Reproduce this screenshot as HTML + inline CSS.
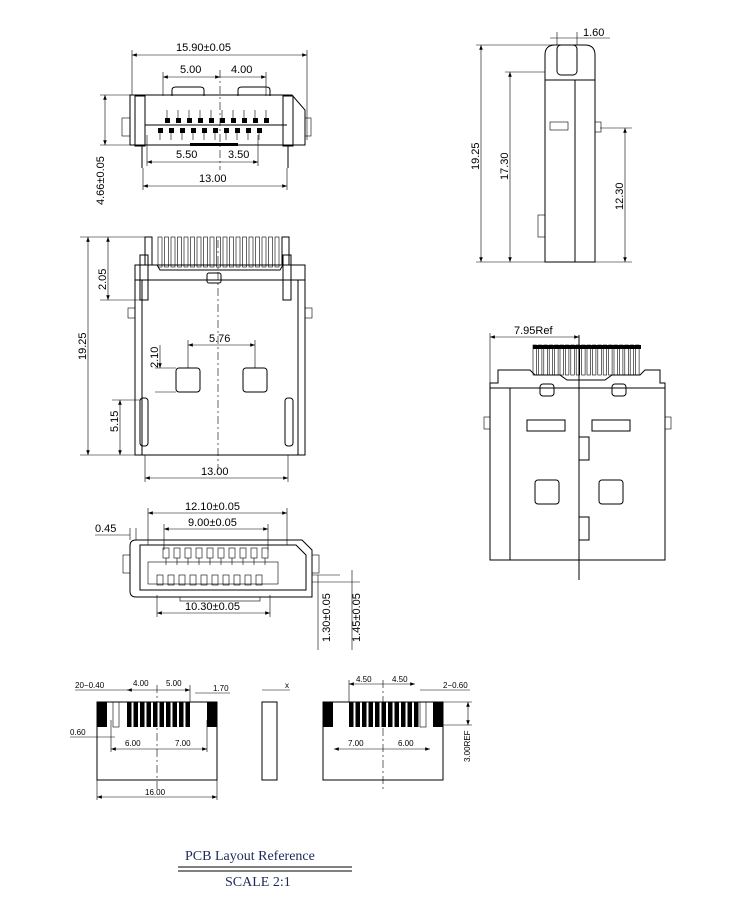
<!DOCTYPE html>
<html><head><meta charset="utf-8"><style>
html,body{margin:0;padding:0;background:#fff}
svg{display:block}
text{font-family:"Liberation Sans",sans-serif;font-size:11px;fill:#000}
.l{stroke:#000;stroke-width:1;fill:none}
.t{stroke:#000;stroke-width:0.6;fill:none}
.c{stroke:#000;stroke-width:0.6;fill:none;stroke-dasharray:8 3 2 3}
.f{fill:#000}
</style></head><body>
<svg id="s" width="750" height="900" viewBox="0 0 750 900" xmlns="http://www.w3.org/2000/svg">
<defs>
<marker id="a" markerWidth="8" markerHeight="6" refX="8" refY="3" orient="auto-start-reverse"><path d="M0,0 L8,3 L0,6z" fill="#000"/></marker>
</defs>
<g id="g">
<path class="l" d="M130 95 H292 L305 110 V145 H130 Z"/>
<rect class="t" x="122" y="118" width="8" height="18"/><rect class="t" x="305" y="118" width="6" height="18"/>
<rect class="l" x="135" y="96" width="10" height="50"/><rect class="l" x="283" y="96" width="10" height="50"/>
<line class="l" x1="142" y1="146" x2="142" y2="168"/><line class="l" x1="288" y1="146" x2="288" y2="168"/>
<path class="l" d="M145 125 H287"/>
<rect class="f" x="190" y="143" width="48" height="3"/>
<path class="l" d="M172 96 V90 Q172 87 176 87 H200 Q204 87 204 90 V96 M238 96 V90 Q238 87 242 87 H266 Q270 87 270 90 V96"/>
<line class="c" x1="220" y1="70" x2="220" y2="170"/>
<line class="t" x1="132" y1="55" x2="307" y2="55" marker-start="url(#a)" marker-end="url(#a)"/>
<line class="t" x1="132" y1="50" x2="132" y2="95"/><line class="t" x1="307" y1="50" x2="307" y2="140"/>
<text x="176" y="51">15.90±0.05</text>
<line class="t" x1="163" y1="77" x2="220" y2="77" marker-start="url(#a)" marker-end="url(#a)"/>
<line class="t" x1="266" y1="77" x2="220" y2="77" marker-start="url(#a)"/>
<line class="t" x1="163" y1="72" x2="163" y2="96"/><line class="t" x1="266" y1="72" x2="266" y2="96"/>
<text x="180" y="73">5.00</text><text x="231" y="73">4.00</text>
<line class="t" x1="147" y1="162" x2="258" y2="162" marker-start="url(#a)" marker-end="url(#a)"/>
<line class="t" x1="147" y1="135" x2="147" y2="166"/><line class="t" x1="258" y1="135" x2="258" y2="166"/>
<text x="176" y="158">5.50</text><text x="228" y="158">3.50</text>
<line class="t" x1="143" y1="186" x2="287" y2="186" marker-start="url(#a)" marker-end="url(#a)"/>
<line class="t" x1="143" y1="168" x2="143" y2="190"/><line class="t" x1="287" y1="168" x2="287" y2="190"/>
<text x="199" y="182">13.00</text>
<line class="t" x1="105" y1="95" x2="105" y2="145" marker-start="url(#a)" marker-end="url(#a)"/>
<line class="t" x1="100" y1="95" x2="130" y2="95"/><line class="t" x1="100" y1="145" x2="130" y2="145"/>
<text transform="translate(104 205) rotate(-90)">4.66±0.05</text>

<path class="l" d="M135 265 H305 V455 H135 Z"/>
<line class="l" x1="135" y1="280" x2="305" y2="280"/>
<line class="l" x1="142" y1="280" x2="142" y2="455"/><line class="l" x1="298" y1="280" x2="298" y2="455"/>
<rect class="t" x="128" y="308" width="7" height="10"/><rect class="t" x="305" y="308" width="7" height="10"/>
<path class="l" d="M145 265 V237 H152 V265 M282 265 V237 H289 V265"/>
<rect class="l" x="140" y="255" width="8" height="45"/><rect class="l" x="283" y="255" width="8" height="45"/>
<g id="p2"></g>
<path class="l" d="M150 265 H157 L160 270 H280 L283 265"/>
<rect class="l" x="207" y="273" width="14" height="10" rx="2"/>
<line class="c" x1="218" y1="240" x2="218" y2="470"/>
<rect class="l" x="176" y="368" width="24" height="24" rx="3"/><rect class="l" x="243" y="368" width="24" height="24" rx="3"/>
<rect class="l" x="140" y="398" width="8" height="48" rx="3"/><rect class="l" x="285" y="398" width="8" height="48" rx="3"/>
<line class="t" x1="80" y1="237" x2="145" y2="237"/><line class="t" x1="80" y1="455" x2="135" y2="455"/>
<line class="t" x1="88" y1="237" x2="88" y2="455" marker-start="url(#a)" marker-end="url(#a)"/>
<text transform="translate(86 360) rotate(-90)">19.25</text>
<line class="t" x1="108" y1="237" x2="108" y2="300" marker-start="url(#a)" marker-end="url(#a)"/>
<line class="t" x1="100" y1="300" x2="140" y2="300"/>
<text transform="translate(106 290) rotate(-90)">2.05</text>
<line class="t" x1="160" y1="345" x2="160" y2="368" marker-end="url(#a)"/>
<line class="t" x1="155" y1="368" x2="176" y2="368"/><line class="t" x1="155" y1="392" x2="176" y2="392"/>
<text transform="translate(158 368) rotate(-90)">2.10</text>
<line class="t" x1="188" y1="345" x2="255" y2="345" marker-start="url(#a)" marker-end="url(#a)"/>
<line class="t" x1="188" y1="340" x2="188" y2="368"/><line class="t" x1="255" y1="340" x2="255" y2="368"/>
<text x="209" y="342">5.76</text>
<line class="t" x1="120" y1="400" x2="120" y2="455" marker-start="url(#a)" marker-end="url(#a)"/>
<line class="t" x1="112" y1="400" x2="140" y2="400"/>
<text transform="translate(118 432) rotate(-90)">5.15</text>
<line class="t" x1="145" y1="478" x2="288" y2="478" marker-start="url(#a)" marker-end="url(#a)"/>
<line class="t" x1="145" y1="455" x2="145" y2="482"/><line class="t" x1="288" y1="455" x2="288" y2="482"/>
<text x="201" y="475">13.00</text>

<path class="l" d="M136 540 H302 L312 550 V597 H136 Q130 597 130 591 V546 Q130 540 136 540 Z"/>
<path class="l" d="M140 545 H296 L306 555 V590 H140 Z"/>
<rect class="t" x="123" y="555" width="7" height="18"/><rect class="t" x="312" y="555" width="7" height="18"/>
<rect class="t" x="148" y="562" width="130" height="22"/>
<g id="p3"></g>
<rect class="t" x="180" y="597" width="80" height="4"/>
<line class="t" x1="148" y1="513" x2="287" y2="513" marker-start="url(#a)" marker-end="url(#a)"/>
<line class="t" x1="148" y1="508" x2="148" y2="545"/><line class="t" x1="287" y1="508" x2="287" y2="545"/>
<text x="185" y="510">12.10±0.05</text>
<line class="t" x1="164" y1="529" x2="268" y2="529" marker-start="url(#a)" marker-end="url(#a)"/>
<line class="t" x1="164" y1="524" x2="164" y2="550"/><line class="t" x1="268" y1="524" x2="268" y2="550"/>
<text x="188" y="526">9.00±0.05</text>
<line class="t" x1="95" y1="535" x2="130" y2="535"/><text x="95" y="532">0.45</text>
<line class="t" x1="130" y1="528" x2="130" y2="540"/><line class="t" x1="136" y1="528" x2="136" y2="540"/>
<line class="t" x1="157" y1="613" x2="270" y2="613" marker-start="url(#a)" marker-end="url(#a)"/>
<line class="t" x1="157" y1="595" x2="157" y2="617"/><line class="t" x1="270" y1="595" x2="270" y2="617"/>
<text x="185" y="610">10.30±0.05</text>
<line class="t" x1="312" y1="575" x2="340" y2="575"/><line class="t" x1="312" y1="582" x2="360" y2="582"/>
<line class="t" x1="318" y1="575" x2="318" y2="650"/><line class="t" x1="352" y1="570" x2="352" y2="650"/>
<text transform="translate(330 642) rotate(-90)">1.30±0.05</text>
<text transform="translate(360 642) rotate(-90)">1.45±0.05</text>

<rect class="l" x="97" y="702" width="120" height="78"/>
<g id="p4"></g>
<line class="c" x1="157" y1="685" x2="157" y2="790"/>
<line class="t" x1="97" y1="797" x2="217" y2="797" marker-start="url(#a)" marker-end="url(#a)"/>
<line class="t" x1="97" y1="780" x2="97" y2="800"/><line class="t" x1="217" y1="780" x2="217" y2="800"/>
<text x="145" y="795" style="font-size:8px">16.00</text>
<line class="t" x1="111" y1="749" x2="207" y2="749" marker-start="url(#a)" marker-end="url(#a)"/>
<line class="t" x1="111" y1="720" x2="111" y2="752"/><line class="t" x1="207" y1="720" x2="207" y2="752"/>
<text x="125" y="746" style="font-size:8px">6.00</text><text x="175" y="746" style="font-size:8px">7.00</text>
<line class="t" x1="70" y1="737" x2="115" y2="737"/><text x="70" y="735" style="font-size:8px">0.60</text>
<line class="t" x1="75" y1="690" x2="130" y2="690"/><text x="75" y="688" style="font-size:8px">20−0.40</text>
<line class="t" x1="127" y1="690" x2="190" y2="690" marker-start="url(#a)" marker-end="url(#a)"/>
<line class="t" x1="190" y1="685" x2="190" y2="702"/>
<text x="133" y="686" style="font-size:8px">4.00</text><text x="166" y="686" style="font-size:8px">5.00</text>
<line class="t" x1="195" y1="693" x2="230" y2="693"/><text x="213" y="691" style="font-size:8px">1.70</text>
<rect class="l" x="262" y="702" width="15" height="78"/>
<line class="t" x1="262" y1="690" x2="290" y2="690"/><text x="285" y="688" style="font-size:8px">x</text>

<rect class="l" x="323" y="702" width="120" height="78"/>
<g id="p5"></g>
<line class="c" x1="383" y1="680" x2="383" y2="792"/>
<line class="t" x1="349" y1="684" x2="415" y2="684" marker-start="url(#a)" marker-end="url(#a)"/>
<line class="t" x1="349" y1="680" x2="349" y2="702"/>
<text x="356" y="682" style="font-size:8px">4.50</text><text x="392" y="682" style="font-size:8px">4.50</text>
<line class="t" x1="420" y1="690" x2="470" y2="690"/><text x="443" y="688" style="font-size:8px">2−0.60</text>
<line class="t" x1="334" y1="749" x2="430" y2="749" marker-start="url(#a)" marker-end="url(#a)"/>
<text x="348" y="746" style="font-size:8px">7.00</text><text x="398" y="746" style="font-size:8px">6.00</text>
<line class="t" x1="443" y1="702" x2="472" y2="702"/><line class="t" x1="443" y1="725" x2="472" y2="725"/>
<line class="t" x1="468" y1="702" x2="468" y2="725" marker-start="url(#a)" marker-end="url(#a)"/>
<text transform="translate(470 762) rotate(-90)" style="font-size:8px">3.00REF</text>

<path class="l" d="M545 262 V55 Q545 45 555 45 H585 Q595 45 595 55 V262 Z"/>
<rect class="l" x="557" y="45" width="20" height="30" rx="4"/>
<line class="l" x1="575" y1="80" x2="575" y2="262"/>
<line class="l" x1="545" y1="80" x2="595" y2="80"/>
<rect class="t" x="550" y="122" width="18" height="8"/><rect class="t" x="595" y="122" width="6" height="10"/>
<rect class="t" x="538" y="215" width="7" height="22"/>
<line class="t" x1="476" y1="45" x2="560" y2="45"/><line class="t" x1="476" y1="262" x2="545" y2="262"/>
<line class="t" x1="481" y1="45" x2="481" y2="262" marker-start="url(#a)" marker-end="url(#a)"/>
<text transform="translate(479 170) rotate(-90)">19.25</text>
<line class="t" x1="505" y1="72" x2="545" y2="72"/>
<line class="t" x1="510" y1="72" x2="510" y2="262" marker-start="url(#a)" marker-end="url(#a)"/>
<text transform="translate(508 180) rotate(-90)">17.30</text>
<line class="t" x1="600" y1="128" x2="632" y2="128"/><line class="t" x1="595" y1="262" x2="632" y2="262"/>
<line class="t" x1="625" y1="128" x2="625" y2="262" marker-start="url(#a)" marker-end="url(#a)"/>
<text transform="translate(623 210) rotate(-90)">12.30</text>
<line class="t" x1="550" y1="38" x2="610" y2="38"/><text x="583" y="36">1.60</text>
<line class="t" x1="557" y1="32" x2="557" y2="45"/><line class="t" x1="577" y1="32" x2="577" y2="45"/>

<path class="l" d="M490 560 V383 H498 V370 H530 L535 375 H560 L567 380 H605 L612 375 H640 L645 370 H660 V383 H665 V560 Z"/>
<line class="l" x1="490" y1="388" x2="665" y2="388"/>
<line class="l" x1="510" y1="388" x2="510" y2="560"/>
<rect class="t" x="484" y="417" width="6" height="12"/><rect class="t" x="665" y="417" width="6" height="12"/>
<rect class="l" x="540" y="384" width="14" height="12" rx="3"/><rect class="l" x="612" y="384" width="14" height="12" rx="3"/>
<rect class="l" x="527" y="420" width="38" height="11"/><rect class="l" x="592" y="420" width="38" height="11"/>
<rect class="l" x="535" y="480" width="24" height="24" rx="3"/><rect class="l" x="599" y="480" width="24" height="24" rx="3"/>
<path class="l" d="M579 335 V580 M579 437 H589 V460 H579 M579 517 H589 V540 H579"/>
<g id="p6"></g>
<line class="t" x1="490" y1="337" x2="579" y2="337" marker-start="url(#a)" marker-end="url(#a)"/>
<line class="t" x1="490" y1="333" x2="490" y2="383"/>
<text x="514" y="334">7.95Ref</text>

<text x="185" y="860" style="font-family:'Liberation Serif',serif;font-size:14px;fill:#1a2a5a">PCB Layout Reference</text>
<line x1="178" y1="867" x2="352" y2="867" stroke="#000" stroke-width="1"/>
<line x1="178" y1="871" x2="352" y2="871" stroke="#000" stroke-width="1"/>
<text x="225" y="886" style="font-family:'Liberation Serif',serif;font-size:14px;fill:#1a2a5a">SCALE 2:1</text>
</g>
</svg>
<script>
var N="http://www.w3.org/2000/svg";
function r(g,x,y,w,h,cls){var e=document.createElementNS(N,'rect');e.setAttribute('x',x);e.setAttribute('y',y);e.setAttribute('width',w);e.setAttribute('height',h);e.setAttribute('class',cls);document.getElementById(g).appendChild(e);}
function ln(g,x1,y1,x2,y2,cls){var e=document.createElementNS(N,'line');e.setAttribute('x1',x1);e.setAttribute('y1',y1);e.setAttribute('x2',x2);e.setAttribute('y2',y2);e.setAttribute('class',cls);document.getElementById(g).appendChild(e);}
var i;
for(i=0;i<10;i++){r('g',165+i*11,118,5,5,'f');ln('g',167+i*11,110,167+i*11,118,'t');}
for(i=0;i<10;i++){r('g',158+i*11,128,5,5,'f');ln('g',160+i*11,133,160+i*11,140,'t');}
for(i=0;i<19;i++){r('p2',158+i*6.5,237,4,30,'t');}
for(i=0;i<10;i++){r('p3',163+i*11,548,6,10,'t');r('p3',157+i*11,575,6,10,'t');ln('p3',166+i*11,558,166+i*11,565,'t');}
r('p4',97,702,10,25,'f');r('p4',207,702,10,25,'f');r('p4',113,702,6,25,'t');
for(i=0;i<10;i++){r('p4',127+i*6.5,702,4.5,25,'f');}
r('p5',323,702,10,25,'f');r('p5',433,702,10,25,'f');r('p5',420,702,6,25,'t');
for(i=0;i<11;i++){r('p5',349+i*6.5,702,4.5,25,'f');}
for(i=0;i<20;i++){r('p6',533+i*5.4,345,3.5,30,'t');}
r('p6',533,345,108,4,'f');
</script>
</body></html>
